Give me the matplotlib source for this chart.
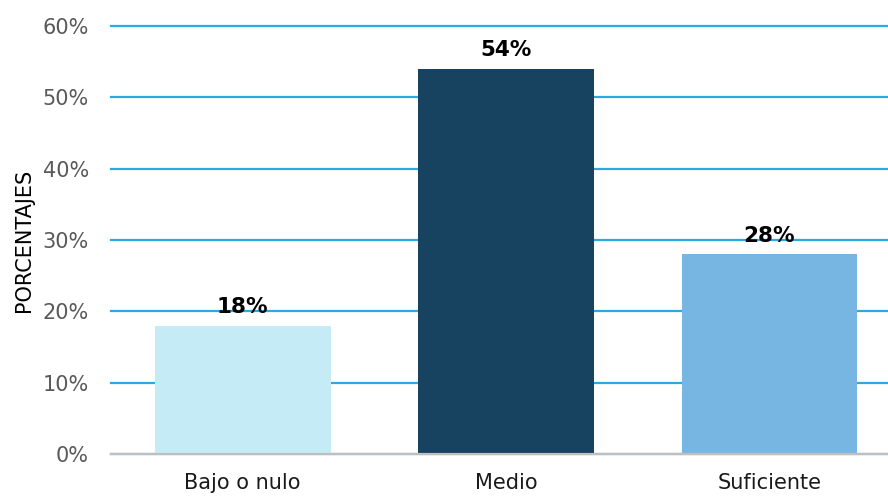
import matplotlib
matplotlib.use("Agg")
import matplotlib.pyplot as plt
from matplotlib.ticker import FuncFormatter, MultipleLocator

categories = ["Bajo o nulo", "Medio", "Suficiente"]
values = [18, 54, 28]
bar_colors = ["#C5EBF6", "#174260", "#77B5E2"]

plt.rcParams["font.family"] = ["DejaVu Sans"]

fig = plt.figure(figsize=(8.88, 4.98), dpi=100)
ax = fig.add_axes([0.125, 0.0884, 0.875, 0.8594])

x = range(len(categories))
bars = ax.bar(x, values, width=0.668, color=bar_colors, zorder=2)

for xi, v in zip(x, values):
    ax.annotate(f"{v}%", (xi, v), xytext=(0, 6), textcoords="offset points",
                ha="center", va="bottom", fontsize=15.5, fontweight="bold",
                color="black", zorder=3)

ax.set_ylim(0, 60)
ax.set_xlim(-0.5, 2.45)
ax.yaxis.set_major_locator(MultipleLocator(10))
ax.yaxis.set_major_formatter(FuncFormatter(lambda v, p: f"{v:.0f}%"))
ax.set_xticks(list(x))
ax.set_xticklabels(categories)

ax.grid(axis="y", color="#29ABE2", linewidth=1.6, zorder=0)
ax.set_axisbelow(True)
for gl in ax.get_ygridlines():
    gl.set_clip_on(False)

for side in ["top", "right", "left"]:
    ax.spines[side].set_visible(False)
ax.spines["bottom"].set_color("#BFBFBF")
ax.spines["bottom"].set_linewidth(1.6)
ax.spines["bottom"].set_zorder(3)

ax.tick_params(axis="y", length=0, pad=16, labelsize=15, labelcolor="#595959")
ax.tick_params(axis="x", length=0, pad=14, labelsize=15, labelcolor="#1a1a1a")

ax.set_ylabel("PORCENTAJES", fontsize=15, color="black", labelpad=6)

fig.savefig("out.png", dpi=100)
